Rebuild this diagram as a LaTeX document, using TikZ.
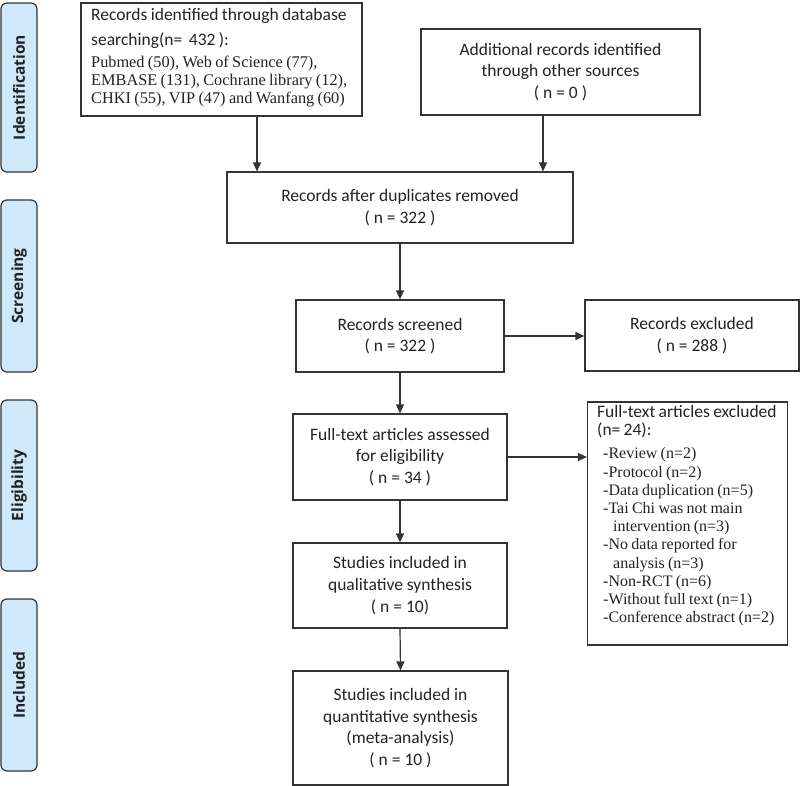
\documentclass[tikz,border=0pt]{standalone}
\usepackage{fontspec}
\setmainfont{Carlito}
\newfontfamily\tms{Liberation Serif}
\newfontfamily\sidefont{Open Sans}
\usetikzlibrary{arrows.meta,calc}
\definecolor{linec}{HTML}{333333}
\definecolor{sidefill}{HTML}{CFE8FA}
\definecolor{txt}{HTML}{222222}
\begin{document}
\begin{tikzpicture}[x=1pt,y=-1pt,
 box/.style={draw=linec,line width=1.2pt,inner sep=0pt,align=center,text=txt,font=\fontsize{17.5}{21.7}\selectfont},
 side/.style={draw=linec,line width=1.2pt,fill=sidefill,rounded corners=6pt,rotate=90,minimum height=36pt,inner sep=0pt,font=\sidefont\bfseries\fontsize{15.5}{18}\selectfont,text=txt},
 arr/.style={draw=linec,line width=1.2pt,-{Triangle[length=9pt,width=8pt]}},
 ltext/.style={anchor=north west,inner sep=0pt,align=left,text=txt}]
\useasboundingbox (0,0) rectangle (800,786);
% side bars
\node[side,minimum width=169pt] (sid) at (19,87.5) {Identification};
\node[side,minimum width=172pt] (sscr) at (19,286) {Screening};
\node[side,minimum width=171pt] (self) at (19,485.5) {Eligibility};
\node[side,minimum width=172pt] (sinc) at (19,685) {Included};
% boxes
\node[box,minimum width=281pt,minimum height=113pt] (db) at (221.5,59.5) {};
\node[ltext,text width=280pt] (dbtext) at (91,8) {{\fontsize{17.5}{21.7}\selectfont Records identified through database\\[3pt]searching(n=\ \ 432 ):\par}\vspace{4pt}{\tms\fontsize{16.3}{18.3}\selectfont Pubmed (50), Web of Science (77),\\EMBASE (131), Cochrane library (12),\\CHKI (55), VIP (47) and Wanfang (60)\par}};
\node[box,minimum width=279pt,minimum height=86pt] (add) at (560.5,72) {Additional records identified\\through other sources\\( n = 0 )};
\node[box,minimum width=346pt,minimum height=71pt] (dup) at (400,207.5) {Records after duplicates removed\\( n = 322 )};
\node[box,minimum width=208pt,minimum height=72pt] (scr) at (400,336) {Records screened\\( n = 322 )};
\node[box,minimum width=214pt,minimum height=71pt] (exc1) at (692,335.5) {Records excluded\\( n = 288 )};
\node[box,minimum width=214pt,minimum height=86pt] (full) at (400,457) {Full-text articles assessed\\for eligibility\\( n = 34 )};
\node[box,minimum width=200pt,minimum height=243pt] (exc2) at (687.5,523.5) {};
\node[ltext,text width=190pt] (exc2text) at (597,405) {{\fontsize{17.5}{18.3}\selectfont Full-text articles excluded\\(n= 24):\par}\vspace{5pt}{\tms\fontsize{16}{18.2}\selectfont
\hspace*{6pt}-Review (n=2)\\
\hspace*{6pt}-Protocol (n=2)\\
\hspace*{6pt}-Data duplication (n=5)\\
\hspace*{6pt}-Tai Chi was not main\\
\hspace*{16pt}intervention (n=3)\\
\hspace*{6pt}-No data reported for\\
\hspace*{16pt}analysis (n=3)\\
\hspace*{6pt}-Non-RCT (n=6)\\
\hspace*{6pt}-Without full text (n=1)\\
\hspace*{6pt}-Conference abstract (n=2)\par}};
\node[box,minimum width=214pt,minimum height=85pt] (qual) at (400,585.5) {Studies included in\\qualitative synthesis\\( n = 10)};
\node[box,minimum width=215pt,minimum height=114pt] (quant) at (400.5,728) {Studies included in\\quantitative synthesis\\(meta-analysis)\\( n = 10 )};
% connectors
\draw[arr] ([xshift=35.5pt]db.south) -- ([xshift=35.5pt]db.south |- dup.north);
\draw[arr] ([xshift=-17.5pt]add.south) -- ([xshift=-17.5pt]add.south |- dup.north);
\draw[arr] (dup.south) -- (scr.north);
\draw[arr] (scr.east) -- (scr.east -| exc1.west);
\draw[arr] (scr.south) -- (full.north);
\draw[arr] (full.east) -- (full.east -| exc2.west);
\draw[arr] (full.south) -- (qual.north);
\draw[arr] (qual.south) -- (quant.north);
\end{tikzpicture}
\end{document}
